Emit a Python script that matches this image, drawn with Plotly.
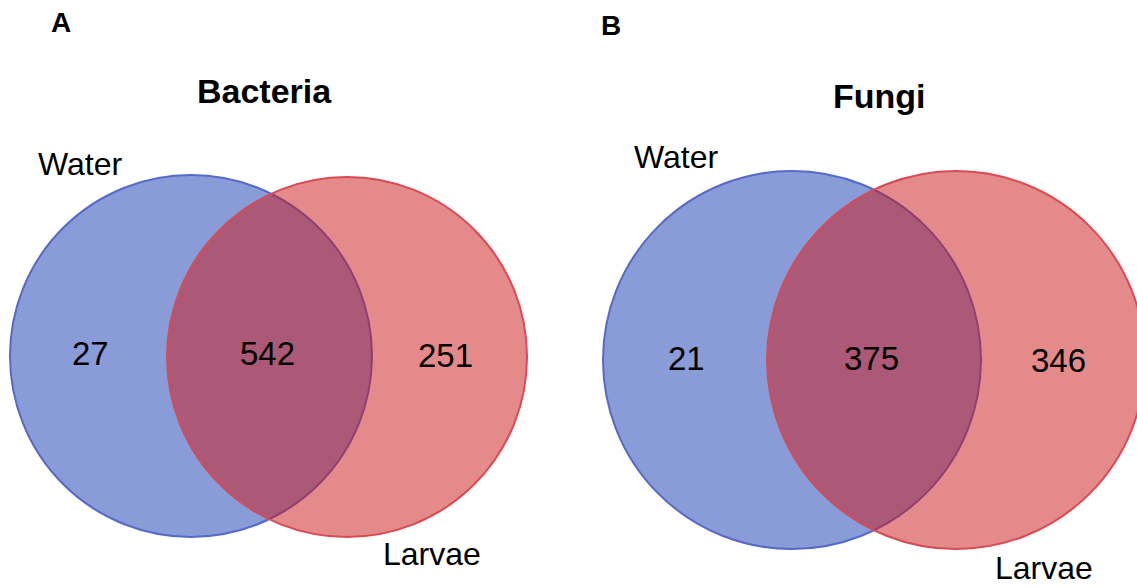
import plotly.graph_objects as go

# ---- data ----
panel_letters = ["A", "B"]
panel_titles = ["Bacteria", "Fungi"]
set_names = ["Water", "Larvae"]
only_water = [27, 21]
shared = [542, 375]
only_larvae = [251, 346]

# ---- layout geometry (pixel space of a 1137x588 canvas) ----
W, H = 1137, 588
# per panel: (cx, cy, r) for the Water and Larvae circles
water_circ = [(191, 356, 181), (792, 360, 189)]
larvae_circ = [(347, 357, 180), (956, 360, 189)]
letter_pos = [(61, 22), (611, 25)]
title_pos = [(264, 91), (879, 96)]
water_lbl_pos = [(80, 164), (676, 157)]
larvae_lbl_pos = [(432, 554), (1044, 568)]
only_w_pos = [(90, 353), (686, 358)]
shared_pos = [(267, 353), (871, 358)]
only_l_pos = [(445, 355), (1058, 360)]

BLUE_FILL = "rgba(60,90,190,0.6)"
BLUE_LINE = "rgb(85,105,200)"
RED_FILL = "rgba(204,21,21,0.5)"
RED_LINE = "rgb(215,75,85)"

fig = go.Figure()
# invisible trace to establish axes
fig.add_trace(go.Scatter(x=[0, W], y=[0, H], mode="markers",
                         marker=dict(opacity=0), hoverinfo="skip", showlegend=False))

shapes = []
for i in range(2):
    for (cx, cy, r), fill, line in ((water_circ[i], BLUE_FILL, BLUE_LINE),
                                    (larvae_circ[i], RED_FILL, RED_LINE)):
        shapes.append(dict(type="circle", xref="x", yref="y",
                           x0=cx - r, x1=cx + r, y0=cy - r, y1=cy + r,
                           fillcolor=fill, line=dict(color=line, width=2),
                           layer="above"))

ann = []
FONT = "Liberation Sans, Arial, sans-serif"


def add(txt, pos, size, bold=False):
    ann.append(dict(x=pos[0], y=pos[1], xref="x", yref="y", showarrow=False,
                    text=f"<b>{txt}</b>" if bold else txt,
                    xanchor="center", yanchor="middle",
                    font=dict(family=FONT, size=size, color="black")))


for i in range(2):
    add(panel_letters[i], letter_pos[i], 28, bold=True)
    add(panel_titles[i], title_pos[i], 34, bold=True)
    add(set_names[0], water_lbl_pos[i], 32)
    add(set_names[1], larvae_lbl_pos[i], 32)
    add(str(only_water[i]), only_w_pos[i], 33)
    add(str(shared[i]), shared_pos[i], 33)
    add(str(only_larvae[i]), only_l_pos[i], 33)

fig.update_layout(
    width=W, height=H,
    margin=dict(l=0, r=0, t=0, b=0),
    paper_bgcolor="white", plot_bgcolor="white",
    xaxis=dict(range=[0, W], visible=False, fixedrange=True),
    yaxis=dict(range=[H, 0], visible=False, fixedrange=True),
    shapes=shapes, annotations=ann, showlegend=False,
)

fig.write_html(
    "out.html",
    config={"displayModeBar": False},
    post_script="document.body.style.margin='0';document.body.style.overflow='hidden';",
)
